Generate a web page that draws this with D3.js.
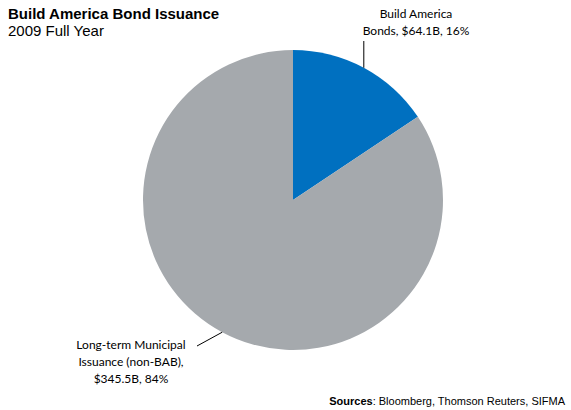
<!DOCTYPE html>
<html>
<head>
<meta charset="utf-8">
<script src="https://cdn.jsdelivr.net/npm/d3@7"></script>
<style>
  html, body { margin: 0; padding: 0; background: #fff; }
  svg { display: block; }
</style>
</head>
<body>
<svg id="chart" width="571" height="410"></svg>
<script>
// Issuance categories and amounts ($B)
const categories = ["Build America Bonds", "Long-term Municipal Issuance (non-BAB)"];
const amounts = [64.1, 345.5];
const shares = [16, 84];
const colors = ["#0070C0", "#A5A9AD"];
const labelLines = [
  ["Build America", "Bonds, $64.1B, 16%"],
  ["Long-term Municipal", "Issuance (non-BAB),", "$345.5B, 84%"]
];

const svg = d3.select("#chart");
const cx = 293, cy = 200, r = 150;

const pie = d3.pie().sort(null).value(d => d)(amounts);
const arc = d3.arc().innerRadius(0).outerRadius(r);

const g = svg.append("g").attr("transform", `translate(${cx},${cy})`);
g.selectAll("path")
  .data(pie)
  .join("path")
  .attr("d", arc)
  .attr("fill", (d, i) => colors[i]);

// Title
svg.append("text").attr("x", 8).attr("y", 19)
  .attr("font-family", "Liberation Sans, Arial, sans-serif")
  .attr("font-size", 15).attr("font-weight", "bold").attr("fill", "#000")
  .text("Build America Bond Issuance");
svg.append("text").attr("x", 8).attr("y", 36)
  .attr("font-family", "Liberation Sans, Arial, sans-serif")
  .attr("font-size", 15).attr("fill", "#000")
  .text("2009 Full Year");

// Slice labels with leader lines from each slice's mid-angle on the rim
const labelFont = "Lato, 'Open Sans', sans-serif";
const rim = d => {
  const a = (d.startAngle + d.endAngle) / 2;
  return [cx + r * Math.sin(a), cy - r * Math.cos(a)];
};

// Build America Bonds label
const e0 = rim(pie[0]);
svg.append("line")
  .attr("x1", e0[0]).attr("y1", e0[1])
  .attr("x2", e0[0]).attr("y2", 41)
  .attr("stroke", "#000").attr("stroke-width", 1);
const t0 = svg.append("text").attr("text-anchor", "middle")
  .attr("font-family", labelFont).attr("font-size", 12).attr("fill", "#000");
labelLines[0].forEach((s, i) => {
  t0.append("tspan").attr("x", 416).attr("y", 18 + i * 17).text(s);
});

// Long-term Municipal label
const e1 = rim(pie[1]);
svg.append("line")
  .attr("x1", e1[0]).attr("y1", e1[1])
  .attr("x2", 197).attr("y2", 346)
  .attr("stroke", "#000").attr("stroke-width", 1);
const t1 = svg.append("text").attr("text-anchor", "middle")
  .attr("font-family", labelFont).attr("font-size", 12).attr("fill", "#000");
labelLines[1].forEach((s, i) => {
  t1.append("tspan").attr("x", 131).attr("y", 349 + i * 17).text(s);
});

// Sources
const src = svg.append("text").attr("x", 565).attr("y", 405).attr("text-anchor", "end")
  .attr("font-family", "Liberation Sans, Arial, sans-serif")
  .attr("font-size", 11).attr("fill", "#000");
src.append("tspan").attr("font-weight", "bold").text("Sources");
src.append("tspan").text(": Bloomberg, Thomson Reuters, SIFMA");
</script>
</body>
</html>
